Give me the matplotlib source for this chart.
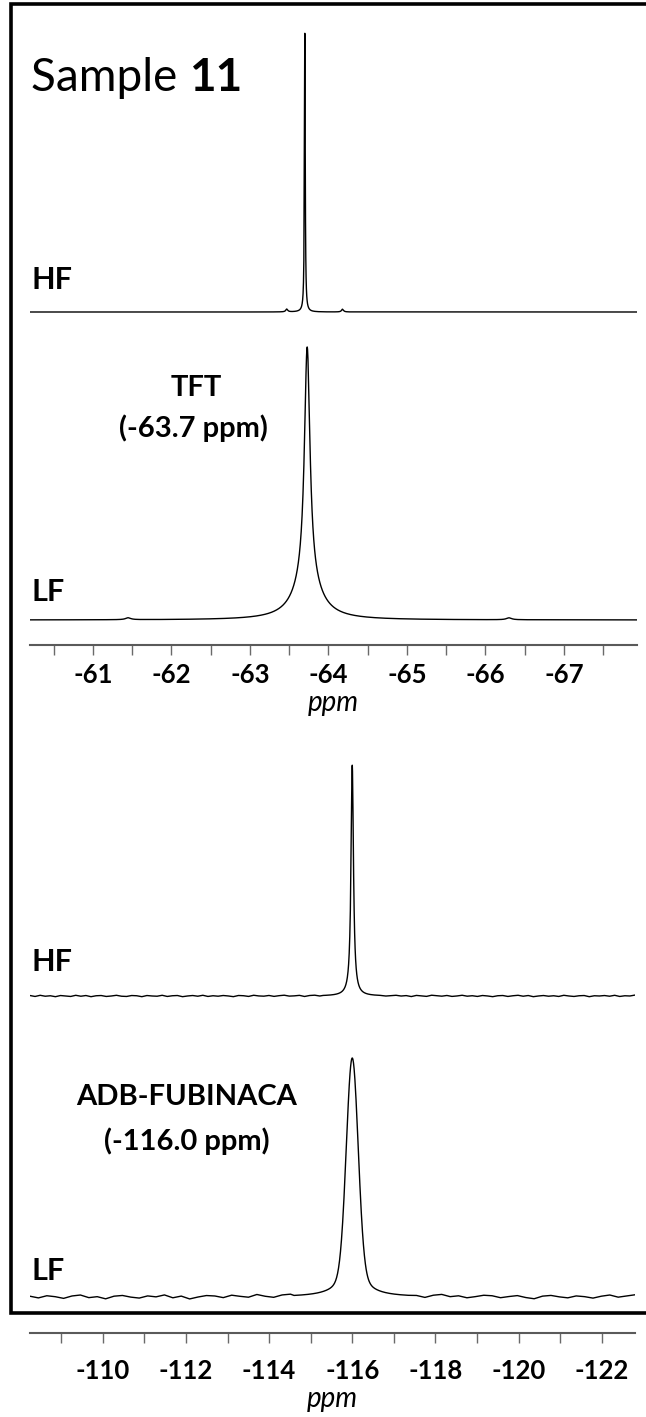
import numpy as np
import matplotlib
matplotlib.use("Agg")
import matplotlib.pyplot as plt
from matplotlib.lines import Line2D
from matplotlib.ticker import MultipleLocator, FixedLocator

plt.rcParams['font.family'] = ['Lato', 'DejaVu Sans']

W, H = 646, 1417

# --- peak data (ppm, FWHM ppm, relative height) ---
tft_hf_peaks = [(-63.70, 0.012, 1.0), (-63.47, 0.03, 0.010), (-64.18, 0.03, 0.010)]
tft_lf_peaks = [(-63.73, 0.085, 0.86), (-63.73, 0.38, 0.14),
                (-61.45, 0.08, 0.007), (-66.30, 0.08, 0.007)]
adb_hf_peaks = [(-116.0, 0.07, 1.0)]
adb_lf_gauss = [(-116.0, 0.33, 0.85)]
adb_lf_lor = [(-116.0, 0.60, 0.15)]

# baseline noise (% of peak height)
adb_lf_noise = [0.3, -0.4, 0.5, 0.1, -0.6, 0.4, 0.8, -0.3, 0.1, -0.8, 0.3, 0.6,
                -0.1, -0.5, 0.4, 0.0, 0.8, -0.4, 0.3, -0.9, -0.1, 0.5, 0.3, -0.4,
                0.6, 0.1, -0.3, 0.8, 0.0, -0.5, 0.4, 0.6, 0.3, -0.4, 0.5, 0.1,
                -0.3, 0.4, 0.0, 0.3, -0.1, 0.5, -0.4, 0.3, 0.6, -0.3, 0.1, -0.6,
                0.4, 0.8, -0.1, 0.3, -0.5, 0.0, 0.6, 0.4, -0.4, 0.1, 0.5, -0.3,
                -0.8, 0.3, 0.6, 0.0, -0.4, 0.4, 0.1, -0.5, 0.3, 0.8, -0.1, 0.4, 0.9]
adb_hf_noise = [0.2, -0.2, 0.3, -0.1, 0.1, -0.3, 0.2, 0.0, -0.2, 0.3, -0.1, 0.2,
                -0.3, 0.1, 0.2, -0.2, 0.0, 0.3, -0.1, -0.2, 0.2, 0.1, -0.3, 0.2,
                0.0, -0.1, 0.3, -0.2, 0.1, 0.2, -0.3, 0.0, 0.2, -0.1, 0.3, -0.2,
                0.1, -0.1, 0.2, 0.0, -0.3, 0.2, 0.1, -0.2, 0.3, 0.0, -0.1, 0.2,
                -0.2, 0.1, 0.3, -0.1, 0.0, 0.2, -0.3, 0.1, 0.2, -0.2, 0.0, 0.3,
                -0.1, 0.2, -0.2, 0.1, 0.0, -0.3, 0.2, 0.1, -0.1, 0.3, -0.2, 0.0,
                0.2, -0.1, 0.1, -0.3, 0.2, 0.0, -0.2, 0.3, 0.1, -0.1, 0.2, -0.2,
                0.0, 0.3, -0.1, 0.1, -0.2, 0.2, 0.0, -0.3, 0.1, 0.2, -0.2, 0.1,
                0.3, -0.1, 0.2, -0.3, 0.0, 0.2, -0.1, 0.1, -0.2, 0.3, 0.0, -0.2,
                0.1, 0.2, -0.3, 0.1, 0.0, 0.2, -0.1, 0.3, -0.2, 0.1, 0.0, 0.4]

top_xlim = (-60.2, -67.93)
top_labels = [-61, -62, -63, -64, -65, -66, -67]
bot_xlim = (-108.25, -122.8)
bot_labels = [-110, -112, -114, -116, -118, -120, -122]


def lor(x, c, w):
    return 1.0 / (1.0 + ((x - c) / (w / 2.0)) ** 2)


def gau(x, c, w):
    return np.exp(-4 * np.log(2) * (x - c) ** 2 / w ** 2)


def grid(xlim, centre, half, n=1500):
    lo, hi = sorted(xlim)
    return np.unique(np.concatenate([np.linspace(lo, hi, 1500),
                                     np.linspace(centre - half, centre + half, n)]))


def noisy(xlim, noise, centre, half, n=600):
    xa = np.linspace(xlim[0], xlim[1], len(noise))
    na = np.array(noise) / 100.0
    keep = np.abs(xa - centre) > half
    xd = np.linspace(centre - half, centre + half, n)
    x = np.concatenate([xa[keep], xd])
    nz = np.concatenate([na[keep], np.zeros(n)])
    o = np.argsort(x)
    return x[o], nz[o]


def px_axes(l, t, r, b):
    return fig.add_axes([l / W, 1 - b / H, (r - l) / W, (b - t) / H])


fig = plt.figure(figsize=(W / 100, H / 100), dpi=100)

# frame around the spectra: open on the right, stops at the page edge
fx = [1.0, 11 / W, 11 / W, 1.0]
fy = [1 - 4 / H, 1 - 4 / H, 1 - 1313 / H, 1 - 1313 / H]
fig.add_artist(Line2D(fx, fy, transform=fig.transFigure, color='black',
                      lw=2.6, solid_joinstyle='miter', solid_capstyle='butt'))

def style_axis(ax, xlim, labels, minor, top_px, bot_px, lpad):
    ax.set_xlim(*xlim)
    ax.set_ylim(bot_px - top_px, 0)  # pixel units, downward
    for s in ['top', 'left', 'right']:
        ax.spines[s].set_visible(False)
    ax.spines['bottom'].set_color('#5a5a5a')
    ax.spines['bottom'].set_linewidth(1.5)
    ax.yaxis.set_visible(False)
    ax.xaxis.set_major_locator(FixedLocator(labels))
    ax.xaxis.set_minor_locator(MultipleLocator(minor))
    ax.set_xticklabels([str(v) for v in labels], fontsize=18.5, fontweight='bold')
    ax.tick_params(axis='x', which='both', direction='out', length=7, width=1,
                   color='#6a6a6a', pad=lpad)
    ax.set_xlabel('ppm', fontsize=20, fontstyle='italic', labelpad=2)
    ax.patch.set_visible(False)

# ---------- top: TFT ----------
t_top, t_bot = 20, 645
ax1 = px_axes(30, t_top, 637, t_bot)
style_axis(ax1, top_xlim, top_labels, 0.5, t_top, t_bot, 6)

x = grid(top_xlim, -63.7, 0.8, 4000)
hf = sum(h * lor(x, c, w) for c, w, h in tft_hf_peaks)
lf = sum(h * lor(x, c, w) for c, w, h in tft_lf_peaks)
ax1.plot(x, (312 - t_top) - 279 * hf, color='black', lw=1.0)
ax1.plot(x, (620 - t_top) - 273 * lf, color='black', lw=1.0)

# ---------- bottom: ADB-FUBINACA ----------
b_top, b_bot = 740, 1333
ax2 = px_axes(30, b_top, 635, b_bot)
style_axis(ax2, bot_xlim, bot_labels, 1, b_top, b_bot, 12)

xh, nh = noisy(bot_xlim, adb_hf_noise, -116.0, 0.7)
hf2 = sum(h * lor(xh, c, w) for c, w, h in adb_hf_peaks) + nh
ax2.plot(xh, (996 - b_top) - 231 * hf2, color='black', lw=1.0)

xl, nl = noisy(bot_xlim, adb_lf_noise, -116.0, 1.4)
lf2 = (sum(h * gau(xl, c, w) for c, w, h in adb_lf_gauss)
       + sum(h * lor(xl, c, w) for c, w, h in adb_lf_lor) + nl)
ax2.plot(xl, (1297 - b_top) - 239 * lf2, color='black', lw=1.0)

# ---------- labels ----------
def ftext(xp, yp, s, **kw):
    return fig.text(xp / W, 1 - yp / H, s, **kw)

fs_lab = 22
ftext(31, 280, 'HF', fontsize=fs_lab, fontweight='bold', va='center')
ftext(31, 592, 'LF', fontsize=fs_lab, fontweight='bold', va='center')
ftext(31, 962, 'HF', fontsize=fs_lab, fontweight='bold', va='center')
ftext(31, 1271, 'LF', fontsize=fs_lab, fontweight='bold', va='center')

ftext(196, 388, 'TFT', fontsize=21, fontweight='bold', ha='center', va='center')
ftext(193, 428, '(-63.7 ppm)', fontsize=21, fontweight='bold', ha='center', va='center')
ftext(187, 1097, 'ADB-FUBINACA', fontsize=21, fontweight='bold', ha='center', va='center')
ftext(187, 1141, '(-116.0 ppm)', fontsize=21, fontweight='bold', ha='center', va='center')

t1 = ftext(31, 78, 'Sample ', fontsize=33, va='center')
fig.canvas.draw()
bb = t1.get_window_extent()
ftext(31 + bb.width, 78, '11', fontsize=33, fontweight='bold', va='center')

fig.savefig('out.png', dpi=100)
